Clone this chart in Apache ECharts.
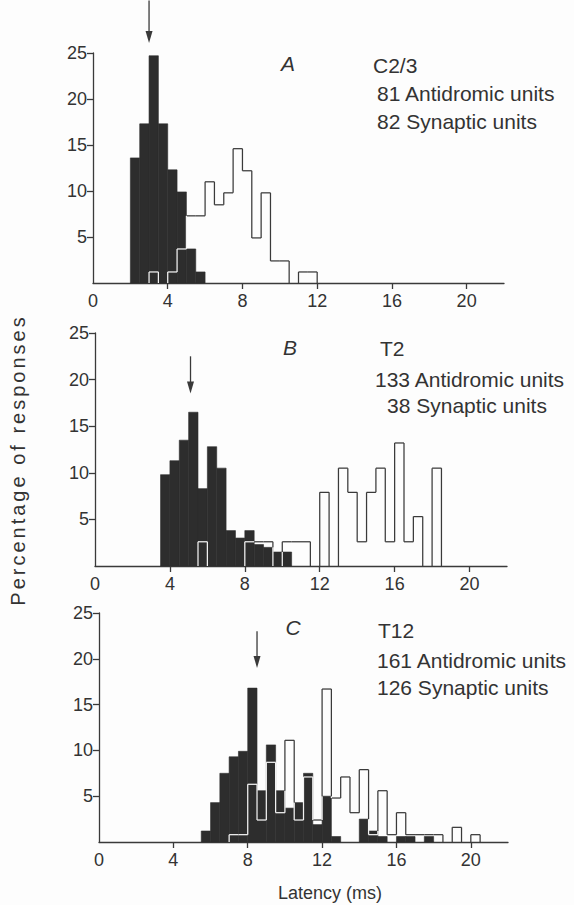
<!DOCTYPE html>
<html>
<head>
<meta charset="utf-8">
<script src="https://cdn.jsdelivr.net/npm/echarts@6/dist/echarts.min.js"></script>
<style>
  html, body { margin: 0; padding: 0; background: #fdfdfd; }
  #main { width: 574px; height: 905px; }
</style>
</head>
<body>
<div id="main"></div>
<script>
// bin width of the latency histograms (ms)
var binWidth = 0.5;
var xTickValues = [0, 4, 8, 12, 16, 20];
var yTickValues = [5, 10, 15, 20, 25];

// A  C2/3 : percentage of responses per bin, first bin starts at ...Start
var antiAStart = 2.0;
var antiA = [13.6, 17.3, 24.7, 17.3, 12.3, 9.9, 3.7, 1.2];
var synAStart = 3.0;
var synA = [1.2, 0, 1.2, 3.7, 7.3, 7.3, 11.0, 8.5, 9.8, 14.6, 12.2, 4.9, 9.8, 2.4, 2.4, 0, 1.2, 1.2];

// B  T2
var antiBStart = 3.5;
var antiB = [9.8, 11.3, 13.5, 16.5, 8.3, 12.8, 10.5, 3.8, 3.0, 3.8, 2.3, 2.0, 1.5, 1.5];
var synBStart = 5.5;
var synB = [2.6, 0, 0, 0, 0, 2.6, 2.6, 2.6, 0, 2.6, 2.6, 2.6, 0, 7.9, 0, 10.5, 7.9, 2.6, 7.9, 10.5, 2.6, 13.2, 2.6, 5.3, 0, 10.5];

// C  T12
var antiCStart = 5.5;
var antiC = [1.2, 4.3, 7.5, 9.3, 9.9, 16.8, 5.6, 10.6, 5.6, 3.7, 4.3, 7.5, 1.9, 5.0, 0.6, 0, 0, 2.5, 1.2, 0.6, 0, 0.6, 0.6, 0, 0.6];
var synCStart = 7.0;
var synC = [0.8, 0.8, 6.3, 2.4, 8.7, 3.2, 11.1, 2.4, 7.1, 2.4, 16.7, 4.8, 7.1, 3.2, 7.9, 0.8, 5.6, 0.8, 3.2, 0.8, 0.8, 0.8, 0.8, 0, 1.6, 0, 0.8];

// arrows (ms)
var arrowLatency = [3.0, 5.1, 8.5];

var panelLetters = ['A', 'B', 'C'];
var segmentNames = ['C2/3', 'T2', 'T12'];
var antiCounts = ['81 Antidromic units', '133 Antidromic units', '161 Antidromic units'];
var synCounts = ['82 Synaptic units', '38 Synaptic units', '126 Synaptic units'];
var yTitle = 'Percentage of responses';

var DARK = '#2d2d2d';
var LINE = '#3a3a3a';
var LIGHT = '#f2f2f2';
var FONT = '"Liberation Sans", Arial, sans-serif';

var panels = [
    {anti: antiA, antiStart: antiAStart, syn: synA, synStart: synAStart,
     grid: {left: 93, top: 53, width: 411, height: 230}, arrow: [26.1, 30.7]},
    {anti: antiB, antiStart: antiBStart, syn: synB, synStart: synBStart,
     grid: {left: 95, top: 333, width: 412, height: 233}, arrow: [18.5, 22.5]},
    {anti: antiC, antiStart: antiCStart, syn: synC, synStart: synCStart,
     grid: {left: 99, top: 613, width: 409, height: 229}, arrow: [19.0, 23.0]}
];

function barItems(start, vals) {
    return vals.map(function (v, i) { return [start + i * binWidth, v]; });
}

// each open bin carries its neighbours and the black height under it
function outlineItems(start, vals, bStart, bVals) {
    function bAt(x) {
        var i = Math.round((x - bStart) / binWidth);
        return (i >= 0 && i < bVals.length) ? bVals[i] : 0;
    }
    return vals.map(function (h, i) {
        var lo = start + i * binWidth;
        var prev = i > 0 ? vals[i - 1] : 0;
        var last = i === vals.length - 1 ? 1 : 0;
        return [lo, h, prev, bAt(lo), bAt(lo - binWidth), last, bAt(lo + binWidth)];
    });
}

function renderBar(params, api) {
    var lo = api.value(0), h = api.value(1);
    if (h <= 0) return null;
    var p0 = api.coord([lo, 0]);
    var p1 = api.coord([lo + binWidth, h]);
    return {
        type: 'rect',
        shape: {x: p0[0], y: p1[1], width: p1[0] - p0[0], height: p0[1] - p1[1]},
        style: {fill: DARK, stroke: DARK, lineWidth: 0.6}
    };
}

function renderOutline(params, api) {
    var lo = api.value(0), h = api.value(1), prev = api.value(2);
    var b = api.value(3), bPrev = api.value(4), last = api.value(5), bNext = api.value(6);
    var hi = lo + binWidth;
    var children = [];
    function seg(x1, y1, x2, y2, white) {
        var p = api.coord([x1, y1]), q = api.coord([x2, y2]);
        children.push({
            type: 'line',
            shape: {x1: p[0], y1: p[1], x2: q[0], y2: q[1]},
            style: {stroke: white ? LIGHT : LINE, lineWidth: 1.25}
        });
    }
    function vert(x, ya, yb, bMax) {
        var a = Math.min(ya, yb), c = Math.max(ya, yb);
        if (c - a <= 0) return;
        var cut = Math.min(Math.max(bMax, a), c);
        if (cut > a) seg(x, a, x, cut, true);
        if (c > cut) seg(x, cut, x, c, false);
    }
    if (h > 0) seg(lo, h, hi, h, h < b);
    vert(lo, prev, h, Math.max(b, bPrev));
    if (last) vert(hi, h, 0, Math.max(b, bNext));
    return {type: 'group', children: children};
}

function makeArrowRender(tip, tail) {
    return function (params, api) {
        var x = api.value(0);
        var p = api.coord([x, tip]);
        var q = api.coord([x, tail]);
        return {
            type: 'group',
            children: [
                {type: 'line', shape: {x1: q[0], y1: q[1], x2: p[0], y2: p[1] - 6},
                 style: {stroke: LINE, lineWidth: 1.3}},
                {type: 'polygon', shape: {points: [[p[0], p[1]], [p[0] - 3.5, p[1] - 12], [p[0] + 3.5, p[1] - 12]]},
                 style: {fill: LINE}}
            ]
        };
    };
}

var grids = [], xAxes = [], yAxes = [], series = [], graphics = [];

panels.forEach(function (pn, k) {
    grids.push(pn.grid);
    xAxes.push({
        type: 'value', gridIndex: k, min: 0, max: 22,
        axisLine: {onZero: false, lineStyle: {color: LINE, width: 1.3}},
        axisTick: {customValues: xTickValues.slice(1), length: 6, lineStyle: {color: LINE, width: 1.3}},
        axisLabel: {customValues: xTickValues, color: '#333', fontSize: 18, fontFamily: FONT, margin: 9},
        splitLine: {show: false}
    });
    yAxes.push({
        type: 'value', gridIndex: k, min: 0, max: 25,
        axisLine: {show: true, lineStyle: {color: LINE, width: 1.3}},
        axisTick: {show: true, customValues: yTickValues, length: 6, lineStyle: {color: LINE, width: 1.3}},
        axisLabel: {customValues: yTickValues, color: '#333', fontSize: 18, fontFamily: FONT, margin: 6},
        splitLine: {show: false}
    });
    series.push({
        type: 'custom', xAxisIndex: k, yAxisIndex: k, z: 2,
        renderItem: renderBar,
        data: barItems(pn.antiStart, pn.anti)
    });
    series.push({
        type: 'custom', xAxisIndex: k, yAxisIndex: k, z: 3,
        renderItem: renderOutline,
        data: outlineItems(pn.synStart, pn.syn, pn.antiStart, pn.anti)
    });
    series.push({
        type: 'custom', xAxisIndex: k, yAxisIndex: k, z: 4, clip: false,
        renderItem: makeArrowRender(pn.arrow[0], pn.arrow[1]),
        data: [[arrowLatency[k]]]
    });
});

// panel texts
var textPos = [
    {letter: [288, 63], seg: [373, 65], anti: [377, 93], syn: [377, 121]},
    {letter: [290, 347], seg: [380, 348], anti: [375, 379], syn: [387, 405]},
    {letter: [293, 627], seg: [378, 630], anti: [377, 660], syn: [377, 687]}
];
function txt(s, pos, opts) {
    opts = opts || {};
    return {
        type: 'text', x: pos[0], y: pos[1], z: 10,
        style: {
            text: s, fill: '#333', font: (opts.italic ? 'italic ' : '') + (opts.size || 21) + 'px ' + FONT,
            textAlign: opts.align || 'left', textVerticalAlign: 'middle'
        }
    };
}
textPos.forEach(function (t, k) {
    graphics.push(txt(panelLetters[k], t.letter, {italic: true, align: 'center'}));
    graphics.push(txt(segmentNames[k], t.seg));
    graphics.push(txt(antiCounts[k], t.anti));
    graphics.push(txt(synCounts[k], t.syn));
});
graphics.push(txt('Latency (ms)', [330, 893], {size: 18, align: 'center'}));
graphics.push({
    type: 'text', x: 18, y: 460, rotation: Math.PI / 2, z: 10,
    style: {text: yTitle, fill: '#333', font: '20px ' + FONT,
            textAlign: 'center', textVerticalAlign: 'middle'}
});

var chart = echarts.init(document.getElementById('main'), null, {renderer: 'svg'});
chart.setOption({
    backgroundColor: '#fdfdfd',
    animation: false,
    grid: grids,
    xAxis: xAxes,
    yAxis: yAxes,
    series: series,
    graphic: graphics
});

// the printed axis title is a little letter-spaced
var texts = document.querySelectorAll('#main svg text');
for (var i = 0; i < texts.length; i++) {
    if (texts[i].textContent === yTitle) {
        texts[i].setAttribute('letter-spacing', '3');
    }
}
</script>
</body>
</html>
